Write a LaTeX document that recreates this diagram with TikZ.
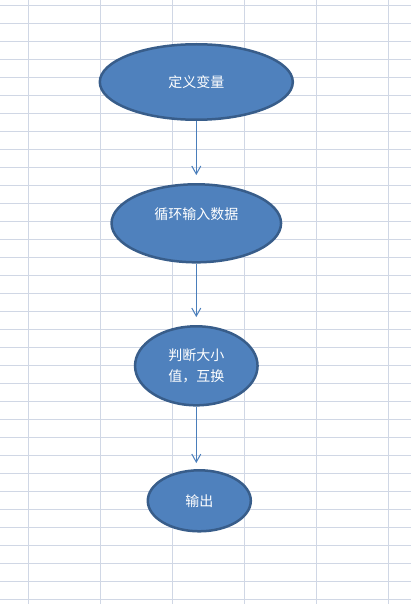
\documentclass[tikz,border=0pt]{standalone}
\usepackage{fontspec}
\setmainfont{Noto Sans CJK SC}
\usetikzlibrary{shapes.geometric,arrows.meta}
\definecolor{gridline}{HTML}{D0D7E5}
\definecolor{shapefill}{HTML}{4F81BD}
\definecolor{shapeedge}{HTML}{385D8A}
\definecolor{arrowline}{HTML}{4A7EBB}

\begin{document}
\begin{tikzpicture}[x=1pt, y=1pt, node distance=141pt,
  blob/.style={ellipse, draw=shapeedge, fill=shapefill, line width=2.5pt, inner sep=0pt,
    text=white, font=\fontsize{14}{21}\selectfont, align=center},
  flow/.style={->, >={Straight Barb[length=8pt,width=9pt]}, draw=arrowline, line width=1pt}]

  \useasboundingbox (0,0) rectangle (411,-604);

  % Grid
  \foreach \gx in {0,...,5} {
    \draw[gridline, line width=1pt] (28.3+72*\gx,0) -- (28.3+72*\gx,-604);
  }
  \foreach \gy in {0,...,33} {
    \draw[gridline, line width=1pt] (0,-5.3-18*\gy) -- (411,-5.3-18*\gy);
  }

  % Ellipses
  \node[blob, minimum width=193pt, minimum height=75.5pt] (V1) at (196.3,-82) {定义变量};
  \node[blob, below of=V1, yshift=-0.3pt, minimum width=169.5pt, minimum height=78pt, text depth=19pt] (V2) {循环输入数据};
  \node[blob, below of=V2, yshift=-1.5pt, minimum width=122.5pt, minimum height=79pt] (V3) {判断大小\\值，互换};
  \node[blob, below of=V3, xshift=3pt, yshift=6pt, minimum width=103pt, minimum height=61pt] (V4) {输出};

  % Arrows
  \draw[flow, shorten >=8pt] (V1.south) -- (V2.north);
  \draw[flow, shorten >=8pt] (V2.south) -- (V3.north);
  \draw[flow, shorten >=6pt] (V3.south) -- (V3.south |- V4.north);

\end{tikzpicture}
\end{document}
